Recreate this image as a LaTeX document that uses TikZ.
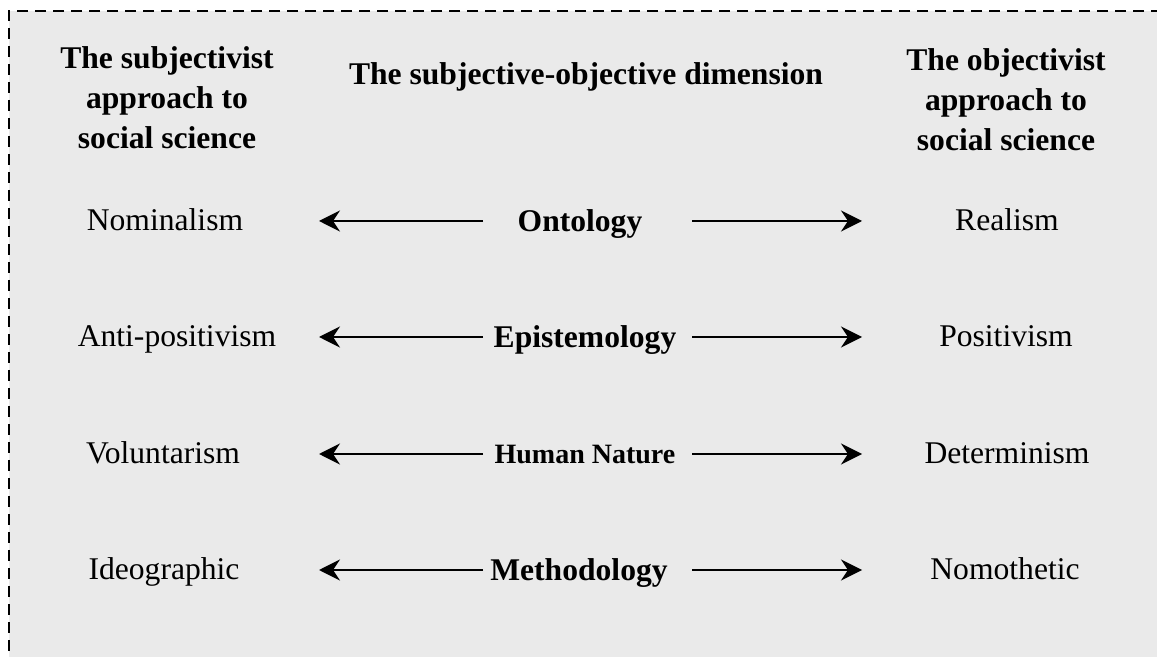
\documentclass[tikz,border=0pt]{standalone}
\usepackage{fontspec}
\setmainfont{Liberation Serif}
\usetikzlibrary{arrows.meta}
\definecolor{boxgray}{RGB}{234,234,234}
\tikzset{dimarrow/.style={line width=1pt, -{Stealth[length=10.5pt,width=10.5pt,inset=3.5pt]}}}

\begin{document}
\begin{tikzpicture}[x=0.5pt, y=-0.5pt,
		head/.style={font=\fontsize{15.8}{20}\selectfont\bfseries, align=center, anchor=north, inner sep=0pt},
		side/.style={font=\fontsize{15.8}{20}\selectfont, anchor=base, inner sep=0pt},
		dim/.style={font=\fontsize{15.8}{20}\selectfont\bfseries, anchor=base, inner sep=0pt}]
	\useasboundingbox (0,0) rectangle (1157,657);
	\clip (0,0) rectangle (1157,657);
	% grauer Kasten, rechts und unten abgeschnitten
	\fill[boxgray] (9,11) rectangle (1180,680);
	\draw[line width=1pt, dash pattern=on 5.5pt off 3.5pt] (1180,11) -- (9,11) -- (9,680);
	% Kopfzeile
	\node[head] (subj) at (167,46) {The subjectivist\\approach to\\social science};
	\node[head] (dimhead) at (586,62) {The subjective-objective dimension};
	\node[head] (obj) at (1006,48) {The objectivist\\approach to\\social science};
	% linke Spalte
	\node[side] (nom) at (165,231) {Nominalism};
	\node[side] (anti) at (177,347) {Anti-positivism};
	\node[side] (vol) at (163,464) {Voluntarism};
	\node[side] (ideo) at (164,580) {Ideographic};
	% mittlere Spalte
	\node[dim] (onto) at (580,232) {Ontology};
	\node[dim] (epis) at (585,348) {Epistemology};
	\node[dim, font=\fontsize{14}{17}\selectfont\bfseries] (human) at (585,464) {Human Nature};
	\node[dim] (meth) at (579,581) {Methodology};
	% rechte Spalte
	\node[side] (real) at (1007,231) {Realism};
	\node[side] (posi) at (1006,347) {Positivism};
	\node[side] (deter) at (1007,464) {Determinism};
	\node[side] (nomo) at (1005,580) {Nomothetic};
	% Pfeilenden
	\coordinate (ontoL) at (483,221); \coordinate (nomR) at (319,221);
	\coordinate (ontoR) at (692,221); \coordinate (realL) at (862,221);
	\coordinate (episL) at (483,337); \coordinate (antiR) at (319,337);
	\coordinate (episR) at (692,337); \coordinate (posiL) at (862,337);
	\coordinate (humanL) at (483,454); \coordinate (volR) at (319,454);
	\coordinate (humanR) at (692,454); \coordinate (deterL) at (862,454);
	\coordinate (methL) at (483,570); \coordinate (ideoR) at (319,570);
	\coordinate (methR) at (692,570); \coordinate (nomoL) at (862,570);
	% Pfeile
	\draw[dimarrow] (ontoL) -- (nomR);
	\draw[dimarrow] (ontoR) -- (realL);
	\draw[dimarrow] (episL) -- (antiR);
	\draw[dimarrow] (episR) -- (posiL);
	\draw[dimarrow] (humanL) -- (volR);
	\draw[dimarrow] (humanR) -- (deterL);
	\draw[dimarrow] (methL) -- (ideoR);
	\draw[dimarrow] (methR) -- (nomoL);
\end{tikzpicture}
\end{document}
